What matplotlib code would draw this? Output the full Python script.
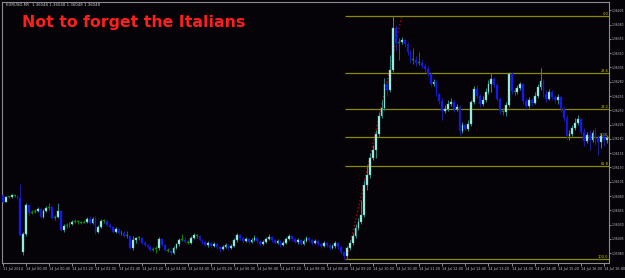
import numpy as np
import matplotlib
matplotlib.use('Agg')
import matplotlib.pyplot as plt

first_open = 1.36082
gap_bar = 7
gap_open = 1.35982

closes = [
    1.36070, 1.36078, 1.36078, 1.36082, 1.36080, 1.36077, 1.36012, 1.36014, 1.36064, 1.36050,
    1.36052, 1.36054, 1.36057, 1.36043, 1.36054, 1.36059, 1.36061, 1.36042, 1.36043, 1.36054,
    1.36021, 1.36028, 1.36029, 1.36031, 1.36035, 1.36036, 1.36035, 1.36033, 1.36035, 1.36040,
    1.36033, 1.36040, 1.36017, 1.36026, 1.36036, 1.36036, 1.36029, 1.36026, 1.36017, 1.36022,
    1.36015, 1.36015, 1.36010, 1.36010, 1.35989, 1.36003, 1.36007, 1.36007, 1.35998, 1.35994,
    1.35991, 1.35986, 1.35987, 1.35989, 1.36005, 1.35994, 1.35986, 1.35984, 1.35980, 1.35989,
    1.35996, 1.36003, 1.36003, 1.36000, 1.35998, 1.36007, 1.36012, 1.36010, 1.36003, 1.36000,
    1.35994, 1.35998, 1.35993, 1.35996, 1.35991, 1.35987, 1.35991, 1.35994, 1.35989, 1.35993,
    1.36003, 1.36012, 1.36007, 1.36001, 1.36005, 1.36000, 1.36003, 1.36007, 1.36001, 1.35996,
    1.36000, 1.36005, 1.36008, 1.36003, 1.35998, 1.36001, 1.35994, 1.35998, 1.36005, 1.36010,
    1.36005, 1.36000, 1.36003, 1.35996, 1.36001, 1.36007, 1.36003, 1.35998, 1.36001, 1.35996,
    1.35993, 1.35998, 1.35994, 1.35989, 1.35993, 1.35998, 1.35991, 1.35982, 1.35975, 1.35989,
    1.35998, 1.36010, 1.36024, 1.36035, 1.36047, 1.36099, 1.36117, 1.36147, 1.36161, 1.36189,
    1.36220, 1.36234, 1.36276, 1.36266, 1.36300, 1.36374, 1.36348, 1.36350, 1.36353, 1.36346,
    1.36332, 1.36318, 1.36318, 1.36313, 1.36313, 1.36307, 1.36302, 1.36294, 1.36276, 1.36280,
    1.36259, 1.36246, 1.36229, 1.36232, 1.36241, 1.36245, 1.36232, 1.36236, 1.36194, 1.36204,
    1.36197, 1.36206, 1.36245, 1.36267, 1.36255, 1.36241, 1.36248, 1.36262, 1.36276, 1.36285,
    1.36274, 1.36250, 1.36229, 1.36227, 1.36239, 1.36294, 1.36264, 1.36262, 1.36269, 1.36276,
    1.36246, 1.36238, 1.36248, 1.36243, 1.36255, 1.36271, 1.36281, 1.36259, 1.36250, 1.36262,
    1.36253, 1.36248, 1.36253, 1.36232, 1.36217, 1.36185, 1.36189, 1.36199, 1.36208, 1.36215,
    1.36192, 1.36176, 1.36187, 1.36178, 1.36190, 1.36182, 1.36175, 1.36185, 1.36178, 1.36182,
]

highs = [
    1.36084, 1.36080, 1.36080, 1.36084, 1.36084, 1.36082, 1.36101, 1.36017, 1.36068, 1.36064,
    1.36056, 1.36057, 1.36061, 1.36059, 1.36057, 1.36063, 1.36068, 1.36063, 1.36047, 1.36068,
    1.36056, 1.36031, 1.36033, 1.36035, 1.36038, 1.36040, 1.36038, 1.36036, 1.36038, 1.36043,
    1.36045, 1.36043, 1.36045, 1.36029, 1.36040, 1.36040, 1.36038, 1.36033, 1.36028, 1.36026,
    1.36024, 1.36021, 1.36019, 1.36019, 1.36010, 1.36010, 1.36008, 1.36010, 1.36008, 1.36001,
    1.35996, 1.35994, 1.35991, 1.35993, 1.36008, 1.36007, 1.35996, 1.35989, 1.35986, 1.35993,
    1.35998, 1.36007, 1.36014, 1.36008, 1.36003, 1.36010, 1.36015, 1.36014, 1.36012, 1.36005,
    1.36003, 1.36001, 1.36000, 1.36000, 1.35998, 1.35993, 1.35994, 1.35998, 1.35996, 1.35996,
    1.36007, 1.36015, 1.36014, 1.36008, 1.36008, 1.36007, 1.36007, 1.36012, 1.36008, 1.36003,
    1.36003, 1.36008, 1.36014, 1.36010, 1.36005, 1.36005, 1.36003, 1.36001, 1.36008, 1.36014,
    1.36012, 1.36007, 1.36007, 1.36005, 1.36005, 1.36010, 1.36008, 1.36005, 1.36005, 1.36003,
    1.35998, 1.36001, 1.36000, 1.35996, 1.35996, 1.36001, 1.36000, 1.35993, 1.35984, 1.35993,
    1.36003, 1.36015, 1.36031, 1.36042, 1.36073, 1.36108, 1.36134, 1.36155, 1.36169, 1.36196,
    1.36227, 1.36248, 1.36287, 1.36283, 1.36327, 1.36395, 1.36379, 1.36357, 1.36358, 1.36355,
    1.36350, 1.36336, 1.36339, 1.36325, 1.36332, 1.36320, 1.36313, 1.36307, 1.36297, 1.36285,
    1.36283, 1.36260, 1.36252, 1.36239, 1.36248, 1.36252, 1.36248, 1.36241, 1.36239, 1.36210,
    1.36206, 1.36213, 1.36248, 1.36273, 1.36274, 1.36259, 1.36255, 1.36269, 1.36283, 1.36295,
    1.36288, 1.36278, 1.36253, 1.36234, 1.36245, 1.36297, 1.36297, 1.36269, 1.36274, 1.36280,
    1.36278, 1.36252, 1.36253, 1.36252, 1.36262, 1.36276, 1.36304, 1.36285, 1.36266, 1.36267,
    1.36266, 1.36257, 1.36259, 1.36255, 1.36238, 1.36222, 1.36196, 1.36204, 1.36217, 1.36222,
    1.36217, 1.36199, 1.36192, 1.36196, 1.36196, 1.36199, 1.36187, 1.36190, 1.36192, 1.36187,
]

lows = [
    1.36068, 1.36070, 1.36077, 1.36077, 1.36078, 1.36075, 1.36010, 1.35977, 1.36010, 1.36047,
    1.36049, 1.36050, 1.36052, 1.36042, 1.36042, 1.36052, 1.36056, 1.36040, 1.36038, 1.36042,
    1.36019, 1.36017, 1.36024, 1.36026, 1.36029, 1.36033, 1.36031, 1.36031, 1.36033, 1.36033,
    1.36031, 1.36031, 1.36014, 1.36015, 1.36024, 1.36033, 1.36028, 1.36024, 1.36015, 1.36015,
    1.36014, 1.36012, 1.36008, 1.36007, 1.35987, 1.35986, 1.35998, 1.36003, 1.35996, 1.35993,
    1.35989, 1.35984, 1.35984, 1.35980, 1.35986, 1.35993, 1.35984, 1.35982, 1.35977, 1.35979,
    1.35987, 1.35993, 1.36001, 1.35998, 1.35996, 1.35996, 1.36005, 1.36007, 1.36001, 1.35996,
    1.35993, 1.35991, 1.35989, 1.35991, 1.35987, 1.35982, 1.35986, 1.35989, 1.35986, 1.35987,
    1.35991, 1.36000, 1.36003, 1.35998, 1.36000, 1.35996, 1.35998, 1.36001, 1.35998, 1.35993,
    1.35994, 1.35998, 1.36003, 1.36000, 1.35996, 1.35996, 1.35991, 1.35993, 1.35996, 1.36003,
    1.36001, 1.35998, 1.35996, 1.35994, 1.35994, 1.36000, 1.36000, 1.35994, 1.35996, 1.35993,
    1.35989, 1.35991, 1.35991, 1.35986, 1.35987, 1.35989, 1.35987, 1.35979, 1.35970, 1.35972,
    1.35986, 1.35994, 1.36007, 1.36021, 1.36031, 1.36043, 1.36091, 1.36112, 1.36143, 1.36147,
    1.36183, 1.36217, 1.36231, 1.36255, 1.36262, 1.36297, 1.36336, 1.36318, 1.36346, 1.36341,
    1.36327, 1.36313, 1.36311, 1.36307, 1.36309, 1.36304, 1.36297, 1.36290, 1.36273, 1.36273,
    1.36255, 1.36241, 1.36213, 1.36225, 1.36229, 1.36238, 1.36227, 1.36229, 1.36187, 1.36190,
    1.36194, 1.36194, 1.36203, 1.36241, 1.36252, 1.36236, 1.36238, 1.36245, 1.36259, 1.36262,
    1.36271, 1.36246, 1.36224, 1.36222, 1.36220, 1.36236, 1.36259, 1.36257, 1.36259, 1.36266,
    1.36241, 1.36232, 1.36234, 1.36238, 1.36241, 1.36252, 1.36266, 1.36253, 1.36245, 1.36248,
    1.36250, 1.36243, 1.36241, 1.36227, 1.36211, 1.36178, 1.36178, 1.36185, 1.36196, 1.36204,
    1.36189, 1.36168, 1.36173, 1.36161, 1.36175, 1.36169, 1.36152, 1.36164, 1.36168, 1.36173,
]

time_labels = ['11 Jul 2014', '14 Jul 00:00', '14 Jul 00:40', '14 Jul 01:20', '14 Jul 02:00',
               '14 Jul 02:40', '14 Jul 03:20', '14 Jul 04:00', '14 Jul 04:40', '14 Jul 05:20',
               '14 Jul 06:00', '14 Jul 06:40', '14 Jul 07:20', '14 Jul 08:00', '14 Jul 08:40',
               '14 Jul 09:20', '14 Jul 10:00', '14 Jul 10:40', '14 Jul 11:20', '14 Jul 12:00',
               '14 Jul 12:40', '14 Jul 13:20', '14 Jul 14:00', '14 Jul 14:40', '14 Jul 15:20',
               '14 Jul 16:00', '14 Jul 16:40']
bars_per_label = 8

fib_ratios = [0.0, 23.6, 38.2, 50.0, 61.8, 100.0]
fib_low_bar = 118
fib_high_bar = 135
fib_anchor_bars = [119, 138]

header = 'EURUSD,M5  1.36048 1.36048 1.36048 1.36048'
title = 'Not to forget the Italians'

closes = np.array(closes)
highs = np.array(highs)
lows = np.array(lows)
opens = np.concatenate([[first_open], closes[:-1]])
opens[gap_bar] = gap_open
x = np.arange(len(closes))

bg = '#050308'
fig = plt.figure(figsize=(6.25, 2.78), dpi=100, facecolor=bg)
ax = fig.add_axes([2 / 625, 15 / 278, 607 / 625, 261 / 278])
ax.set_facecolor(bg)

up = closes - opens >= 0.000025
down = opens - closes >= 0.000025
flat = ~(up | down)

wick_col = np.where(up, '#2f8a7e', np.where(down, '#1c1ca0', '#0c800c'))
ax.vlines(x, lows, highs, colors=wick_col, linewidth=0.7, zorder=2)

body_lo = np.minimum(opens, closes)
body_h = np.maximum(np.abs(closes - opens), 0.000012)
ax.bar(x[up], body_h[up], bottom=body_lo[up], width=0.62, color='#b2f6ec',
       edgecolor='#4fb4a6', linewidth=0.3, zorder=3)
ax.bar(x[down], body_h[down], bottom=body_lo[down], width=0.62, color='#1a1aff',
       edgecolor='#1010c0', linewidth=0.3, zorder=3)
ax.bar(x[flat], body_h[flat], bottom=body_lo[flat], width=0.62, color='#0f9a0f',
       edgecolor='#0c800c', linewidth=0.3, zorder=3)

# fibonacci retracement
fib_hi = highs[fib_high_bar]
fib_lo = lows[fib_low_bar]
for r in fib_ratios:
    lvl = fib_hi - (fib_hi - fib_lo) * r / 100
    ax.hlines(lvl, fib_anchor_bars[0] - 0.5, len(x), colors='#8a8a00', linewidth=0.9, zorder=1)
    ax.text(len(x) - 0.6, lvl, '%.1f' % r, color='#c8c800', fontsize=2.6,
            ha='right', va='bottom', zorder=4)
ax.plot(fib_anchor_bars, [fib_lo, fib_hi], color='#c00000', linestyle=':', linewidth=1, zorder=1)

ax.set_xlim(-0.35, 209.7)
ax.set_ylim(1.359628, 1.364195)

ax.yaxis.tick_right()
ticks = np.arange(1.35980, 1.364101, 0.00025)
ax.set_yticks(ticks)
ax.set_yticklabels(['%.5f' % v for v in ticks])
ax.set_xticks(np.arange(len(time_labels)) * bars_per_label)
ax.set_xticklabels(time_labels, ha='left')
ax.tick_params(axis='both', colors='#bdbdbd', labelsize=2.5, length=2, width=0.5, pad=1.2)
ax.tick_params(axis='y', labelsize=2.2, length=1.5, pad=0.6)
for s in ax.spines.values():
    s.set_color('#8c8c8c')
    s.set_linewidth(0.8)

fig.text(6 / 625, 1 - 5 / 278, header, color='#c8c8c8', fontsize=2.8, va='center')
fig.text(22 / 625, 1 - 22 / 278, title, color='#ff1e1e', fontsize=11.3, fontweight='bold',
         va='center')

fig.savefig('out.png', dpi=100, facecolor=bg)
